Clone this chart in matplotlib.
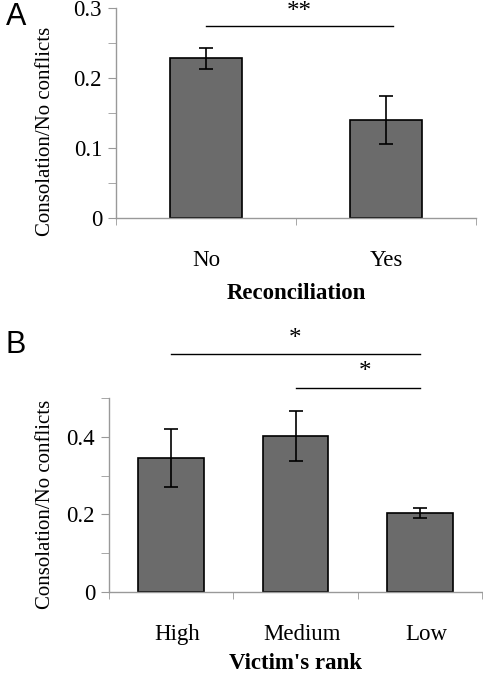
import numpy as np
import matplotlib
matplotlib.use("Agg")
import matplotlib.pyplot as plt

plt.rcParams["font.family"] = "Liberation Serif"

# panel A
recon_cats = ["No", "Yes"]
recon_vals = [0.228, 0.140]
recon_err = [0.015, 0.034]

# panel B
rank_cats = ["High", "Medium", "Low"]
rank_vals = [0.346, 0.402, 0.204]
rank_err = [0.075, 0.065, 0.013]

bar_col = "#6b6b6b"
axis_col = "#999999"

fig = plt.figure(figsize=(4.83, 6.76), dpi=100)


def style_axes(ax):
    for s in ["top", "right"]:
        ax.spines[s].set_visible(False)
    for s in ["left", "bottom"]:
        ax.spines[s].set_color(axis_col)
        ax.spines[s].set_linewidth(1.0)
    ax.tick_params(axis="y", which="both", direction="out", length=6,
                   color=axis_col, labelsize=16.5, pad=4)
    ax.tick_params(axis="x", which="major", length=0, labelsize=16.5, pad=23)
    ax.tick_params(axis="x", which="minor", length=5, direction="out", color=axis_col)


# ---- A ----
axA = fig.add_axes([0.240, 0.6775, 0.7455, 0.3105])
n = len(recon_cats)
x = np.arange(n)
axA.bar(x, recon_vals, width=0.4, color=bar_col, edgecolor="black", linewidth=1.2,
        yerr=recon_err, capsize=5, error_kw=dict(elinewidth=1.2, capthick=1.2, ecolor="black"))
axA.set_xlim(-0.5, n - 0.5)
axA.set_ylim(0, 0.3)
axA.set_yticks([0, 0.1, 0.2, 0.3])
axA.set_yticklabels(["0", "0.1", "0.2", "0.3"])
axA.set_yticks([0.05, 0.15, 0.25], minor=True)
axA.set_xticks(x)
axA.set_xticklabels(recon_cats)
axA.set_xticks(np.arange(n + 1) - 0.5, minor=True)
style_axes(axA)
axA.set_ylabel("Consolation/No conflicts", fontsize=15)
axA.yaxis.set_label_coords(-0.169, 0.414)
axA.set_xlabel("Reconciliation", fontsize=16.5, fontweight="bold", labelpad=9)
axA.plot([0, 1.04], [0.2747, 0.2747], color="black", lw=1.0, clip_on=False)
axA.text(0.52, 0.279, "**", ha="center", va="bottom", fontsize=18)
fig.text(0.012, 0.975, "A", fontsize=22, family="Liberation Sans", va="center")

# ---- B ----
axB = fig.add_axes([0.2257, 0.1247, 0.7723, 0.2863])
n = len(rank_cats)
x = np.arange(n)
axB.bar(x, rank_vals, width=0.53, color=bar_col, edgecolor="black", linewidth=1.2,
        yerr=rank_err, capsize=5, error_kw=dict(elinewidth=1.2, capthick=1.2, ecolor="black"))
axB.set_xlim(-0.5, n - 0.5)
axB.set_ylim(0, 0.5)
axB.set_yticks([0, 0.2, 0.4])
axB.set_yticklabels(["0", "0.2", "0.4"])
axB.set_yticks([0.1, 0.3, 0.5], minor=True)
axB.set_xticks(x + 0.05)
axB.set_xticklabels(rank_cats)
axB.set_xticks(np.arange(n + 1) - 0.5, minor=True)
style_axes(axB)
axB.set_ylabel("Consolation/No conflicts", fontsize=15)
axB.yaxis.set_label_coords(-0.145, 0.45)
axB.set_xlabel("Victim's rank", fontsize=16.5, fontweight="bold", labelpad=6)
axB.plot([0, 2.0], [0.613, 0.613], color="black", lw=1.0, clip_on=False)
axB.text(1.0, 0.625, "*", ha="center", va="bottom", fontsize=18)
axB.plot([1.0, 2.0], [0.526, 0.526], color="black", lw=1.0, clip_on=False)
axB.text(1.56, 0.538, "*", ha="center", va="bottom", fontsize=18)
fig.text(0.012, 0.49, "B", fontsize=22, family="Liberation Sans", va="center")

fig.savefig("out.png", dpi=100)
